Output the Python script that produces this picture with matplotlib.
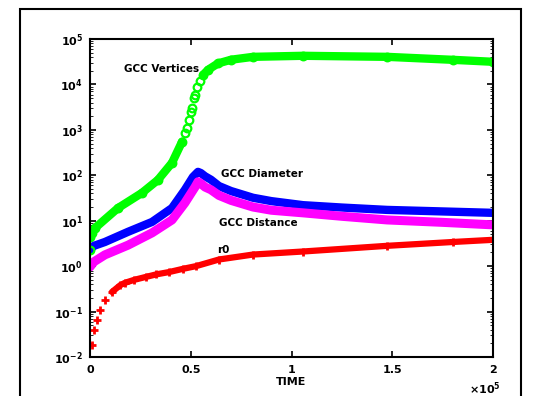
import numpy as np
import matplotlib.pyplot as plt
from matplotlib.ticker import LogLocator
from matplotlib.patches import Rectangle
plt.rcParams['font.family']      = 'DejaVu Sans'
plt.rcParams['font.weight']      = 'bold'
plt.rcParams['mathtext.default'] = 'bf'
plt.rcParams['font.size']        = 8
plt.rcParams['xtick.direction']  = 'in'
plt.rcParams['ytick.direction']  = 'in'

# data (time in raw units, y on log scale)
t_vert = np.array([0.0, 0.01, 0.025, 0.139, 0.258, 0.337, 0.407, 0.457, 0.471, 0.481,
                   0.491, 0.501, 0.506, 0.516, 0.521, 0.531, 0.546, 0.561, 0.586,
                   0.635, 0.70, 0.809, 1.057, 1.474, 1.801, 2.0]) * 1e5
gcc_vert = [4.4, 5.5, 6.9, 19, 41, 79, 188, 550, 850, 1100,
            1660, 2500, 3000, 5040, 6000, 8900, 12000, 16200, 21000,
            29000, 35000, 40500, 42700, 40500, 34800, 31500]

t_diam = np.array([0.0, 0.02, 0.074, 0.189, 0.308, 0.407, 0.471, 0.511, 0.536, 0.55,
                   0.571, 0.60, 0.64, 0.70, 0.809, 0.90, 1.057, 1.25, 1.474, 1.75,
                   2.0]) * 1e5
gcc_diam = [2.3, 2.8, 3.4, 5.7, 9.4, 19, 48, 92, 119, 112,
            95, 80, 58, 45, 32, 27, 22, 19.5, 17.3, 16, 14.9]

t_dist = np.array([0.0, 0.02, 0.074, 0.189, 0.308, 0.407, 0.471, 0.521, 0.536, 0.55,
                   0.571, 0.60, 0.64, 0.70, 0.809, 0.90, 1.057, 1.25, 1.474, 1.75,
                   2.0]) * 1e5
gcc_dist = [0.96, 1.25, 1.77, 2.9, 5.4, 10.4, 24.7, 55, 72, 66,
            55, 48, 36, 28, 20, 17, 14.9, 12.5, 10.4, 9.2, 8.1]

t_r = np.array([0.01, 0.02, 0.035, 0.05, 0.074, 0.109, 0.15, 0.174, 0.22, 0.278,
                0.33, 0.392, 0.46, 0.526, 0.64, 0.809, 1.057, 1.474, 1.8, 2.0]) * 1e5
r0 = [0.018, 0.039, 0.065, 0.108, 0.18, 0.27, 0.38, 0.43, 0.50, 0.58,
      0.66, 0.74, 0.87, 1.0, 1.4, 1.8, 2.1, 2.8, 3.4, 3.8]

x_ticks = [0, 0.5e5, 1e5, 1.5e5, 2e5]
x_ticklabels = ['0', '0.5', '1', '1.5', '2']

fig = plt.figure(figsize=(5.44, 3.96), dpi=100)
ax = fig.add_axes([0.1654, 0.0985, 0.741, 0.803])

green = '#00ff00'
lo = t_vert <= 0.47e5
hi = t_vert >= 0.56e5
ax.plot(t_vert[lo], np.array(gcc_vert)[lo], color=green, lw=6, solid_capstyle='round')
ax.plot(t_vert[hi], np.array(gcc_vert)[hi], color=green, lw=6, solid_capstyle='round')
ax.plot(t_vert, gcc_vert, 'o', color=green, ms=5.5, mfc='none', mew=1.6)
ax.plot(t_diam, gcc_diam, color='#0000ff', lw=6, solid_capstyle='round')
ax.plot(t_diam[:1], gcc_diam[:1], 'o', color=green, ms=5.5, mfc='none', mew=1.6)
ax.plot(t_dist, gcc_dist, color='#ff00ff', lw=6.5, solid_capstyle='round')
ax.plot(t_r[5:], r0[5:], color='#ff0000', lw=4.5, solid_capstyle='round')
ax.plot(t_r, r0, '+', color='#ff0000', ms=6, mew=2)

ax.set_yscale('log')
ax.set_ylim(1e-2, 1e5)
ax.set_xlim(0, 2e5)
ax.set_yticks([1e-2, 1e-1, 1e0, 1e1, 1e2, 1e3, 1e4, 1e5])
ax.yaxis.set_minor_locator(LogLocator(subs=np.arange(2, 10)))
ax.set_xticks(x_ticks)
ax.set_xticklabels(x_ticklabels)

ax.tick_params(which='both', top=True, right=True, width=1.2)
ax.tick_params(which='major', length=4)
ax.tick_params(axis='x', pad=6)
ax.tick_params(axis='y', pad=5)
ax.tick_params(which='minor', length=2, width=0.6)
for s in ax.spines.values():
    s.set_linewidth(1.5)

ax.set_xlabel('TIME', fontweight='bold', labelpad=1)
ax.text(1.02, -0.075, r'$\times10^{5}$', transform=ax.transAxes, ha='right', va='top')

ax.text(0.17e5, 2.2e4, 'GCC Vertices', fontsize=7.5, fontweight='bold', va='center')
ax.text(0.65e5, 105, 'GCC Diameter', fontsize=7.5, fontweight='bold', va='center')
ax.text(0.64e5, 9, 'GCC Distance', fontsize=7.5, fontweight='bold', va='center')
ax.text(0.63e5, 2.3, 'r0', fontsize=7.5, fontweight='bold', va='center')

fig.patches.append(Rectangle((20 / 544, -0.02), 501 / 544, 1 - 9 / 396 + 0.02,
                             transform=fig.transFigure, fill=False, ec='black',
                             lw=1.5, clip_on=False))

plt.savefig('out.png', dpi=100)
